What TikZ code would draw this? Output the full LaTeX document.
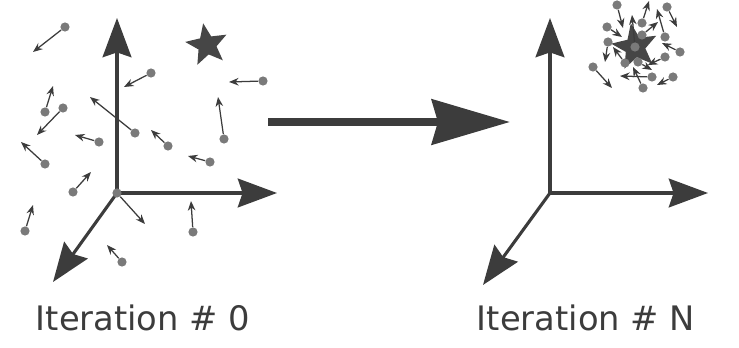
\documentclass[tikz,border=0pt]{standalone}
\usepackage{fontspec}
\setmainfont{DejaVu Sans}
\usetikzlibrary{arrows.meta,positioning,shapes.geometric}
\definecolor{axisgray}{HTML}{3C3C3C}
\definecolor{dotgray}{HTML}{7A7A7A}
\definecolor{stargray}{HTML}{464646}
\tikzset{every picture/.style={line width=0.5pt}}
\tikzstyle{ptcl}=[circle,fill=dotgray,draw=none,inner sep=0pt,minimum size=0.23cm]
\tikzstyle{axis}=[color=axisgray,line width=2.2pt,-{Stealth[length=0.98cm,width=0.72cm,inset=0.12cm]}]
\tikzstyle{move}=[color=axisgray,line width=0.9pt,-{Stealth[length=0.24cm,width=0.19cm]}]
\tikzstyle{goal}=[star,star points=5,star point ratio=2.3,fill=stargray,inner sep=0pt,minimum size=1.1cm]
\tikzstyle{caption}=[text=axisgray,font=\fontsize{24}{28}\selectfont]

\begin{document}
\begin{tikzpicture}[x=0.025cm,y=-0.025cm]
\useasboundingbox (0,0) rectangle (739,348);
% iteration 0: axes
\coordinate (O) at (117,193);
\coordinate (Y) at (117,18);
\coordinate (X) at (277,193);
\coordinate (Z) at (53,282);
\path[axis]
(O) edge (Y)
(O) edge (X)
(O) edge (Z);
\node[goal,rotate=10] (goal0) at (207,45) {};
% iteration 0: particles
\node[ptcl] (p0) at (117,193) {};
\node[ptcl] (p1) at (65,27) {};
\node[ptcl] (p2) at (151,73) {};
\node[ptcl] (p3) at (263,81) {};
\node[ptcl] (p4) at (45,112) {};
\node[ptcl] (p5) at (63,108) {};
\node[ptcl] (p6) at (135,133) {};
\node[ptcl] (p7) at (99,142) {};
\node[ptcl] (p8) at (168,146) {};
\node[ptcl] (p9) at (224,139) {};
\node[ptcl] (p10) at (210,162) {};
\node[ptcl] (p11) at (45,164) {};
\node[ptcl] (p12) at (73,192) {};
\node[ptcl] (p13) at (193,232) {};
\node[ptcl] (p14) at (25,231) {};
\node[ptcl] (p15) at (122,262) {};
\coordinate (q0) at (145,224);
\coordinate (q1) at (33,52);
\coordinate (q2) at (124,87);
\coordinate (q3) at (229,82);
\coordinate (q4) at (53,86);
\coordinate (q5) at (37,135);
\coordinate (q6) at (90,97);
\coordinate (q7) at (75,135);
\coordinate (q8) at (151,130);
\coordinate (q9) at (218,97);
\coordinate (q10) at (188,156);
\coordinate (q11) at (21,142);
\coordinate (q12) at (91,172);
\coordinate (q13) at (191,201);
\coordinate (q14) at (33,205);
\coordinate (q15) at (107,245);
\path[move]
(p0) edge (q0) (p1) edge (q1) (p2) edge (q2) (p3) edge (q3)
(p4) edge (q4) (p5) edge (q5) (p6) edge (q6) (p7) edge (q7)
(p8) edge (q8) (p9) edge (q9) (p10) edge (q10) (p11) edge (q11)
(p12) edge (q12) (p13) edge (q13) (p14) edge (q14) (p15) edge (q15);
% between the two
\coordinate (from) at (268,122);
\coordinate (to) at (510,122);
\path[color=axisgray,line width=5.6pt,-{Stealth[length=1.95cm,width=1.12cm,inset=0.15cm]}]
(from) edge (to);
% iteration N: axes
\coordinate (O') at (550,193);
\coordinate (Y') at (550,18);
\coordinate (X') at (708,193);
\coordinate (Z') at (483,285);
\path[axis]
(O') edge (Y')
(O') edge (X')
(O') edge (Z');
\node[goal,rotate=10,minimum size=1.2cm] (goalN) at (635,47) {};
% iteration N: particles
\node[ptcl] (r0) at (635,47) {};
\node[ptcl] (r1) at (617,5) {};
\node[ptcl] (r2) at (642,23) {};
\node[ptcl] (r3) at (667,7) {};
\node[ptcl] (r4) at (607,27) {};
\node[ptcl] (r5) at (608,42) {};
\node[ptcl] (r6) at (642,35) {};
\node[ptcl] (r7) at (665,37) {};
\node[ptcl] (r8) at (680,52) {};
\node[ptcl] (r9) at (665,57) {};
\node[ptcl] (r10) at (625,63) {};
\node[ptcl] (r11) at (638,62) {};
\node[ptcl] (r12) at (593,67) {};
\node[ptcl] (r13) at (652,77) {};
\node[ptcl] (r14) at (673,77) {};
\node[ptcl] (r15) at (643,88) {};
\coordinate (s0) at (632,15);
\coordinate (s1) at (623,28);
\coordinate (s2) at (649,1);
\coordinate (s3) at (677,27);
\coordinate (s4) at (622,37);
\coordinate (s5) at (605,62);
\coordinate (s6) at (658,22);
\coordinate (s7) at (657,9);
\coordinate (s8) at (662,43);
\coordinate (s9) at (648,65);
\coordinate (s10) at (613,47);
\coordinate (s11) at (652,70);
\coordinate (s12) at (612,88);
\coordinate (s13) at (620,76);
\coordinate (s14) at (657,85);
\coordinate (s15) at (633,67);
\path[move]
(r0) edge (s0) (r1) edge (s1) (r2) edge (s2) (r3) edge (s3)
(r4) edge (s4) (r5) edge (s5) (r6) edge (s6) (r7) edge (s7)
(r8) edge (s8) (r9) edge (s9) (r10) edge (s10) (r11) edge (s11)
(r12) edge (s12) (r13) edge (s13) (r14) edge (s14) (r15) edge (s15);
% captions
\node[caption] (lab0) at (143,318) {Iteration \# 0};
\node[caption] (labN) at (586,318) {Iteration \# N};
\end{tikzpicture}
\end{document}
